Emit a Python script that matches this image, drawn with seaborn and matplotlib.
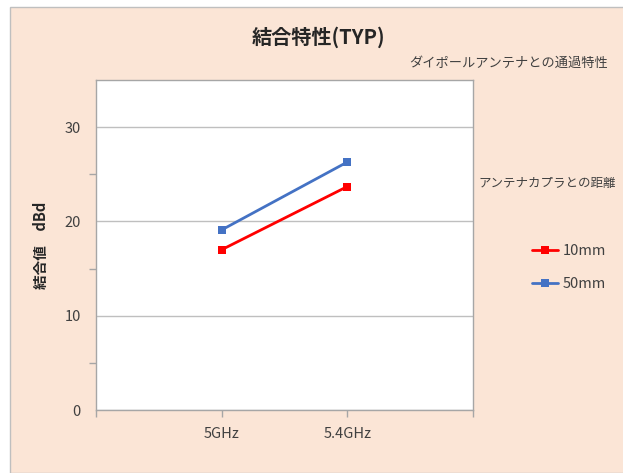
import matplotlib
matplotlib.use("Agg")
import matplotlib.pyplot as plt
import seaborn as sns
import pandas as pd
from matplotlib.patches import Rectangle
from matplotlib.lines import Line2D

categories = ["5GHz", "5.4GHz"]
series_names = ["10mm", "50mm"]
values_10mm = [17.0, 23.7]
values_50mm = [19.1, 26.3]
colors = ["#FF0000", "#4472C4"]

sns.set_theme(style="white")
plt.rcParams['font.family'] = ['Noto Sans CJK JP', 'DejaVu Sans']

rows = []
for name, vals in zip(series_names, [values_10mm, values_50mm]):
    for i, (c, v) in enumerate(zip(categories, vals)):
        rows.append({"pos": i, "cat": c, "series": name, "value": v})
df = pd.DataFrame(rows)

W, H = 623, 473
fig = plt.figure(figsize=(W / 100, H / 100), dpi=100)
fig.patch.set_facecolor("white")
bg = "#FBE5D6"
fig.patches.append(Rectangle((10 / W, 0), 1 - 10 / W + 0.01, 1 - 7 / H, transform=fig.transFigure,
                             facecolor=bg, edgecolor="#BFBFBF", linewidth=1.0, zorder=-5))

ax = fig.add_axes([96 / W, (H - 410) / H, 377 / W, 330 / H])
ax.set_zorder(2)
ax.set_facecolor("white")

sns.lineplot(data=df, x="pos", y="value", hue="series", palette=colors, marker="s",
             markersize=6, markeredgewidth=0, linewidth=2, ax=ax, legend=False)

ax.set_xlim(-1, 2)
ax.set_ylim(0, 35)
ax.set_xticks([-1, 0, 1, 2])
ax.set_xticklabels(["", categories[0], categories[1], ""], fontsize=10.5, color="#404040")
ax.set_yticks([0, 10, 20, 30])
ax.set_yticklabels(["0", "10", "20", "30"], fontsize=10.5, color="#404040")
ax.set_yticks([5, 15, 25], minor=True)
ax.grid(axis="y", which="major", color="#BFBFBF", linewidth=1)
ax.tick_params(axis="x", which="major", bottom=True, length=5, color="#A6A6A6", width=1, pad=7,
               direction="out")
ax.tick_params(axis="y", which="major", length=0, pad=11)
ax.tick_params(axis="y", which="minor", length=5, color="#A6A6A6", width=1, left=True, direction="out")
for s in ax.spines.values():
    s.set_color("#A6A6A6")
    s.set_linewidth(1)
ax.set_xlabel("")
ax.set_ylabel("結合値　dBd", fontsize=10.5, fontweight="bold", color="#262626", labelpad=11)

fig.text(318 / W, 1 - 37 / H, "結合特性(TYP)", ha="center", va="center", fontsize=14.5,
         fontweight="bold", color="#262626")
fig.text(608 / W, 1 - 63 / H, "ダイポールアンテナとの通過特性", ha="right", va="center", fontsize=9.5,
         color="#404040")
fig.text(478 / W, 1 - 183 / H, "アンテナカプラとの距離", ha="left", va="center", fontsize=9,
         color="#404040")

handles = [Line2D([0], [0], color=c, linewidth=2, marker="s", markersize=6, markeredgewidth=0)
           for c in colors]
leg = fig.legend(handles, series_names, loc="upper left", bbox_to_anchor=(526 / W, 1 - 238 / H),
                 frameon=False, fontsize=10.5, handlelength=1.8, handletextpad=0.3,
                 labelspacing=1.3, borderaxespad=0)
for t in leg.get_texts():
    t.set_color("#404040")

fig.savefig("out.png", dpi=100, facecolor=fig.get_facecolor())
